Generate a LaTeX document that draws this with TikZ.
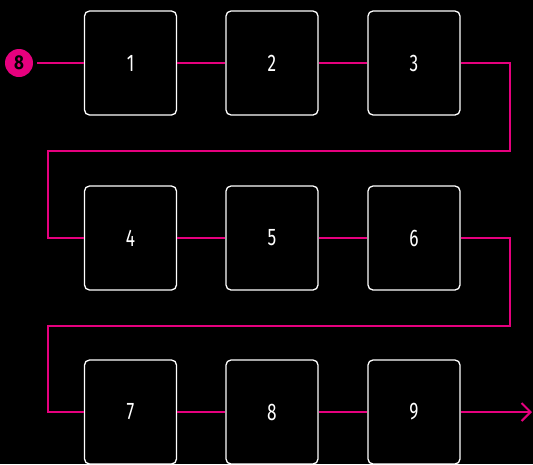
\documentclass[tikz,border=0pt]{standalone}
\usepackage{fontspec}
\setmainfont{Fira Sans}[FakeStretch=0.72]
\newfontfamily\badgefont{Fira Sans}[FakeStretch=0.85]
\usetikzlibrary{arrows.meta}
\definecolor{pinkline}{RGB}{230,0,126}
\tikzset{
  stepbox/.style={draw=white, line width=1.3pt, rounded corners=5pt, minimum width=92pt, minimum height=104pt, inner sep=0pt, text=white, font=\fontsize{24}{24}\selectfont},
  flow/.style={draw=pinkline, line width=2pt},
  badge/.style={circle, fill=pinkline, minimum size=28pt, inner sep=0pt, text=black, font=\badgefont\bfseries\fontsize{20}{20}\selectfont}
}
\begin{document}
\begin{tikzpicture}[x=1pt,y=-1pt]
\fill[black] (0,0) rectangle (533,464);
\useasboundingbox (0,0) rectangle (533,464);
\node[badge] (start) at (19,63) {8};
\node[stepbox] (b1) at (130.5,63) {1};
\node[stepbox] (b2) at (272,63) {2};
\node[stepbox] (b3) at (414,63) {3};
\node[stepbox] (b4) at (130.5,238) {4};
\node[stepbox] (b5) at (272,238) {5};
\node[stepbox] (b6) at (414,238) {6};
\node[stepbox] (b7) at (130.5,412) {7};
\node[stepbox] (b8) at (272,412) {8};
\node[stepbox] (b9) at (414,412) {9};
\coordinate (end) at (532,412);
\coordinate (r1) at (510,63);
\coordinate (r1b) at (510,151);
\coordinate (l1b) at (48,151);
\coordinate (l1) at (48,238);
\coordinate (r2) at (510,238);
\coordinate (r2b) at (510,326);
\coordinate (l2b) at (48,326);
\coordinate (l2) at (48,412);
\draw[flow, shorten <=4pt] (start.east) -- (b1.west);
\draw[flow] (b1) -- (b2);
\draw[flow] (b2) -- (b3);
\draw[flow] (b4) -- (b5);
\draw[flow] (b5) -- (b6);
\draw[flow] (b7) -- (b8);
\draw[flow] (b8) -- (b9);
\draw[flow] (b3.east) -- (r1) -- (r1b) -- (l1b) -- (l1) -- (b4.west);
\draw[flow] (b6.east) -- (r2) -- (r2b) -- (l2b) -- (l2) -- (b7.west);
\draw[flow, -{Straight Barb[length=9pt,width=18pt]}] (b9.east) -- (end);
\end{tikzpicture}
\end{document}
